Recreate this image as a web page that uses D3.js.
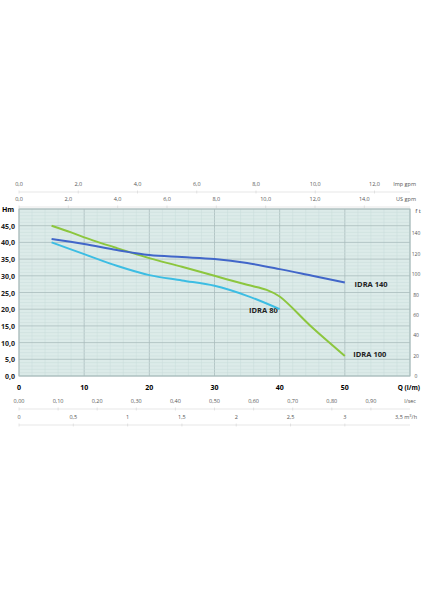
<!DOCTYPE html><html><head><meta charset="utf-8"><script src="https://cdn.jsdelivr.net/npm/d3@7"></script>
<style>body{margin:0;background:#fff}text{font-family:"Open Sans",sans-serif}</style></head><body><svg id="c" width="424" height="600"></svg>
<script>
const qTicks=[0,10,20,30,40,50];
const hTicks=[0,5,10,15,20,25,30,35,40,45];
const ftTicks=[0,20,40,60,80,100,120,140];
const impTicks=[0,2,4,6,8,10,12];
const usTicks=[0,2,4,6,8,10,12,14];
const lsTicks=[0,0.1,0.2,0.3,0.4,0.5,0.6,0.7,0.8,0.9];
const m3Ticks=[0,0.5,1,1.5,2,2.5,3];
const idra140Q=[5,10,15,20,25,30,35,40,45,50], idra140H=[41,39.5,37.7,36.2,35.6,35,33.8,32,30,28];
const idra100Q=[5,8,10,15,20,25,30,35,38,40,45,50], idra100H=[45,43,41.5,38.3,35.3,32.7,30,27.3,25.8,23.8,14.5,6];
const idra80Q=[5,10,15,20,25,30,35,40], idra80H=[40,36.5,33,30.2,28.6,27,24,20];
const svg=d3.select("#c");
const x=d3.scaleLinear().domain([0,60]).range([19,410]);
const y=d3.scaleLinear().domain([0,50]).range([376,209]);
const fmt=d=>d.toFixed(1).replace(".",",");
svg.append("rect").attr("x",x(0)).attr("y",y(50)).attr("width",x(60)-x(0)).attr("height",y(0)-y(50)).attr("fill","#dcebe9");
for(let q=0;q<=60;q+=2)svg.append("line").attr("x1",x(q)).attr("x2",x(q)).attr("y1",y(0)).attr("y2",y(50)).attr("stroke",q%10?"#c9dcdb":"#a9bcbc").attr("stroke-width",q%10?0.5:0.8);
for(let h=0;h<=50;h+=1)svg.append("line").attr("x1",x(0)).attr("x2",x(60)).attr("y1",y(h)).attr("y2",y(h)).attr("stroke",h%5?"#c9dcdb":"#a9bcbc").attr("stroke-width",h%5?0.5:0.8);
svg.append("rect").attr("x",x(0)).attr("y",y(50)).attr("width",x(60)-x(0)).attr("height",y(0)-y(50)).attr("fill","none").attr("stroke","#a9bcbc");
const g=svg.append("g");
hTicks.forEach(h=>g.append("text").attr("x",15).attr("y",y(h)+3).attr("text-anchor","end").attr("font-size",7).attr("font-weight","bold").attr("fill","#222").text(fmt(h)));
g.append("text").attr("x",2).attr("y",212).attr("font-size",7).attr("font-weight","bold").text("Hm");
ftTicks.forEach(f=>g.append("text").attr("x",416).attr("y",y(f*0.3048)+2).attr("text-anchor","middle").attr("font-size",5).attr("fill","#555").text(f));
g.append("text").attr("x",418).attr("y",213).attr("text-anchor","middle").attr("font-size",6).attr("fill","#444").text("f t");
qTicks.forEach(q=>g.append("text").attr("x",x(q)).attr("y",390).attr("text-anchor","middle").attr("font-size",7).attr("font-weight","bold").text(q));
g.append("text").attr("x",420).attr("y",390).attr("text-anchor","end").attr("font-size",6.5).attr("font-weight","bold").text("Q (l/m)");
function sub(ticks,scale,yy,f,unit,lineY){
 svg.append("line").attr("x1",x(0)).attr("x2",x(60)).attr("y1",lineY).attr("y2",lineY).attr("stroke","#ccc").attr("stroke-width",0.5);
 ticks.forEach(t=>{g.append("text").attr("x",x(t*scale)).attr("y",yy).attr("text-anchor","middle").attr("font-size",5.5).attr("fill","#555").text(f(t));
  svg.append("line").attr("x1",x(t*scale)).attr("x2",x(t*scale)).attr("y1",lineY-1.5).attr("y2",lineY+1.5).attr("stroke","#ccc").attr("stroke-width",0.5);});
 g.append("text").attr("x",416).attr("y",yy).attr("text-anchor","end").attr("font-size",5.5).attr("fill","#555").html(unit);
}
sub(impTicks,4.546,186,fmt,"Imp gpm",192);
sub(usTicks,3.785,201,fmt,"US gpm",207);
sub(lsTicks,60,403,d=>d.toFixed(2).replace(".",","),"l/sec",409);
sub(m3Ticks,1000/60,419,d=>String(d).replace(".",","),"",425);
g.append("text").attr("x",417).attr("y",419).attr("text-anchor","end").attr("font-size",5.5).attr("fill","#555").html("3,5 m<tspan dy='-2' font-size='4'>3</tspan><tspan dy='2'>/h</tspan>");
const line=d3.line().x(d=>x(d[0])).y(d=>y(d[1])).curve(d3.curveCatmullRom);
[[idra80Q,idra80H,"#3cbde3"],[idra100Q,idra100H,"#8cc63e"],[idra140Q,idra140H,"#4166c9"]].forEach(([q,h,c])=>
 svg.append("path").attr("d",line(q.map((v,i)=>[v,h[i]]))).attr("fill","none").attr("stroke",c).attr("stroke-width",2));
[["IDRA 140",51.5,26.7],["IDRA 80",35.3,18.8],["IDRA 100",51.3,5.8]].forEach(([t,q,h])=>
 g.append("text").attr("x",x(q)).attr("y",y(h)).attr("font-size",7.5).attr("font-weight","bold").attr("font-family","Liberation Sans,Arial").attr("fill","#222").text(t));
</script></body></html>
